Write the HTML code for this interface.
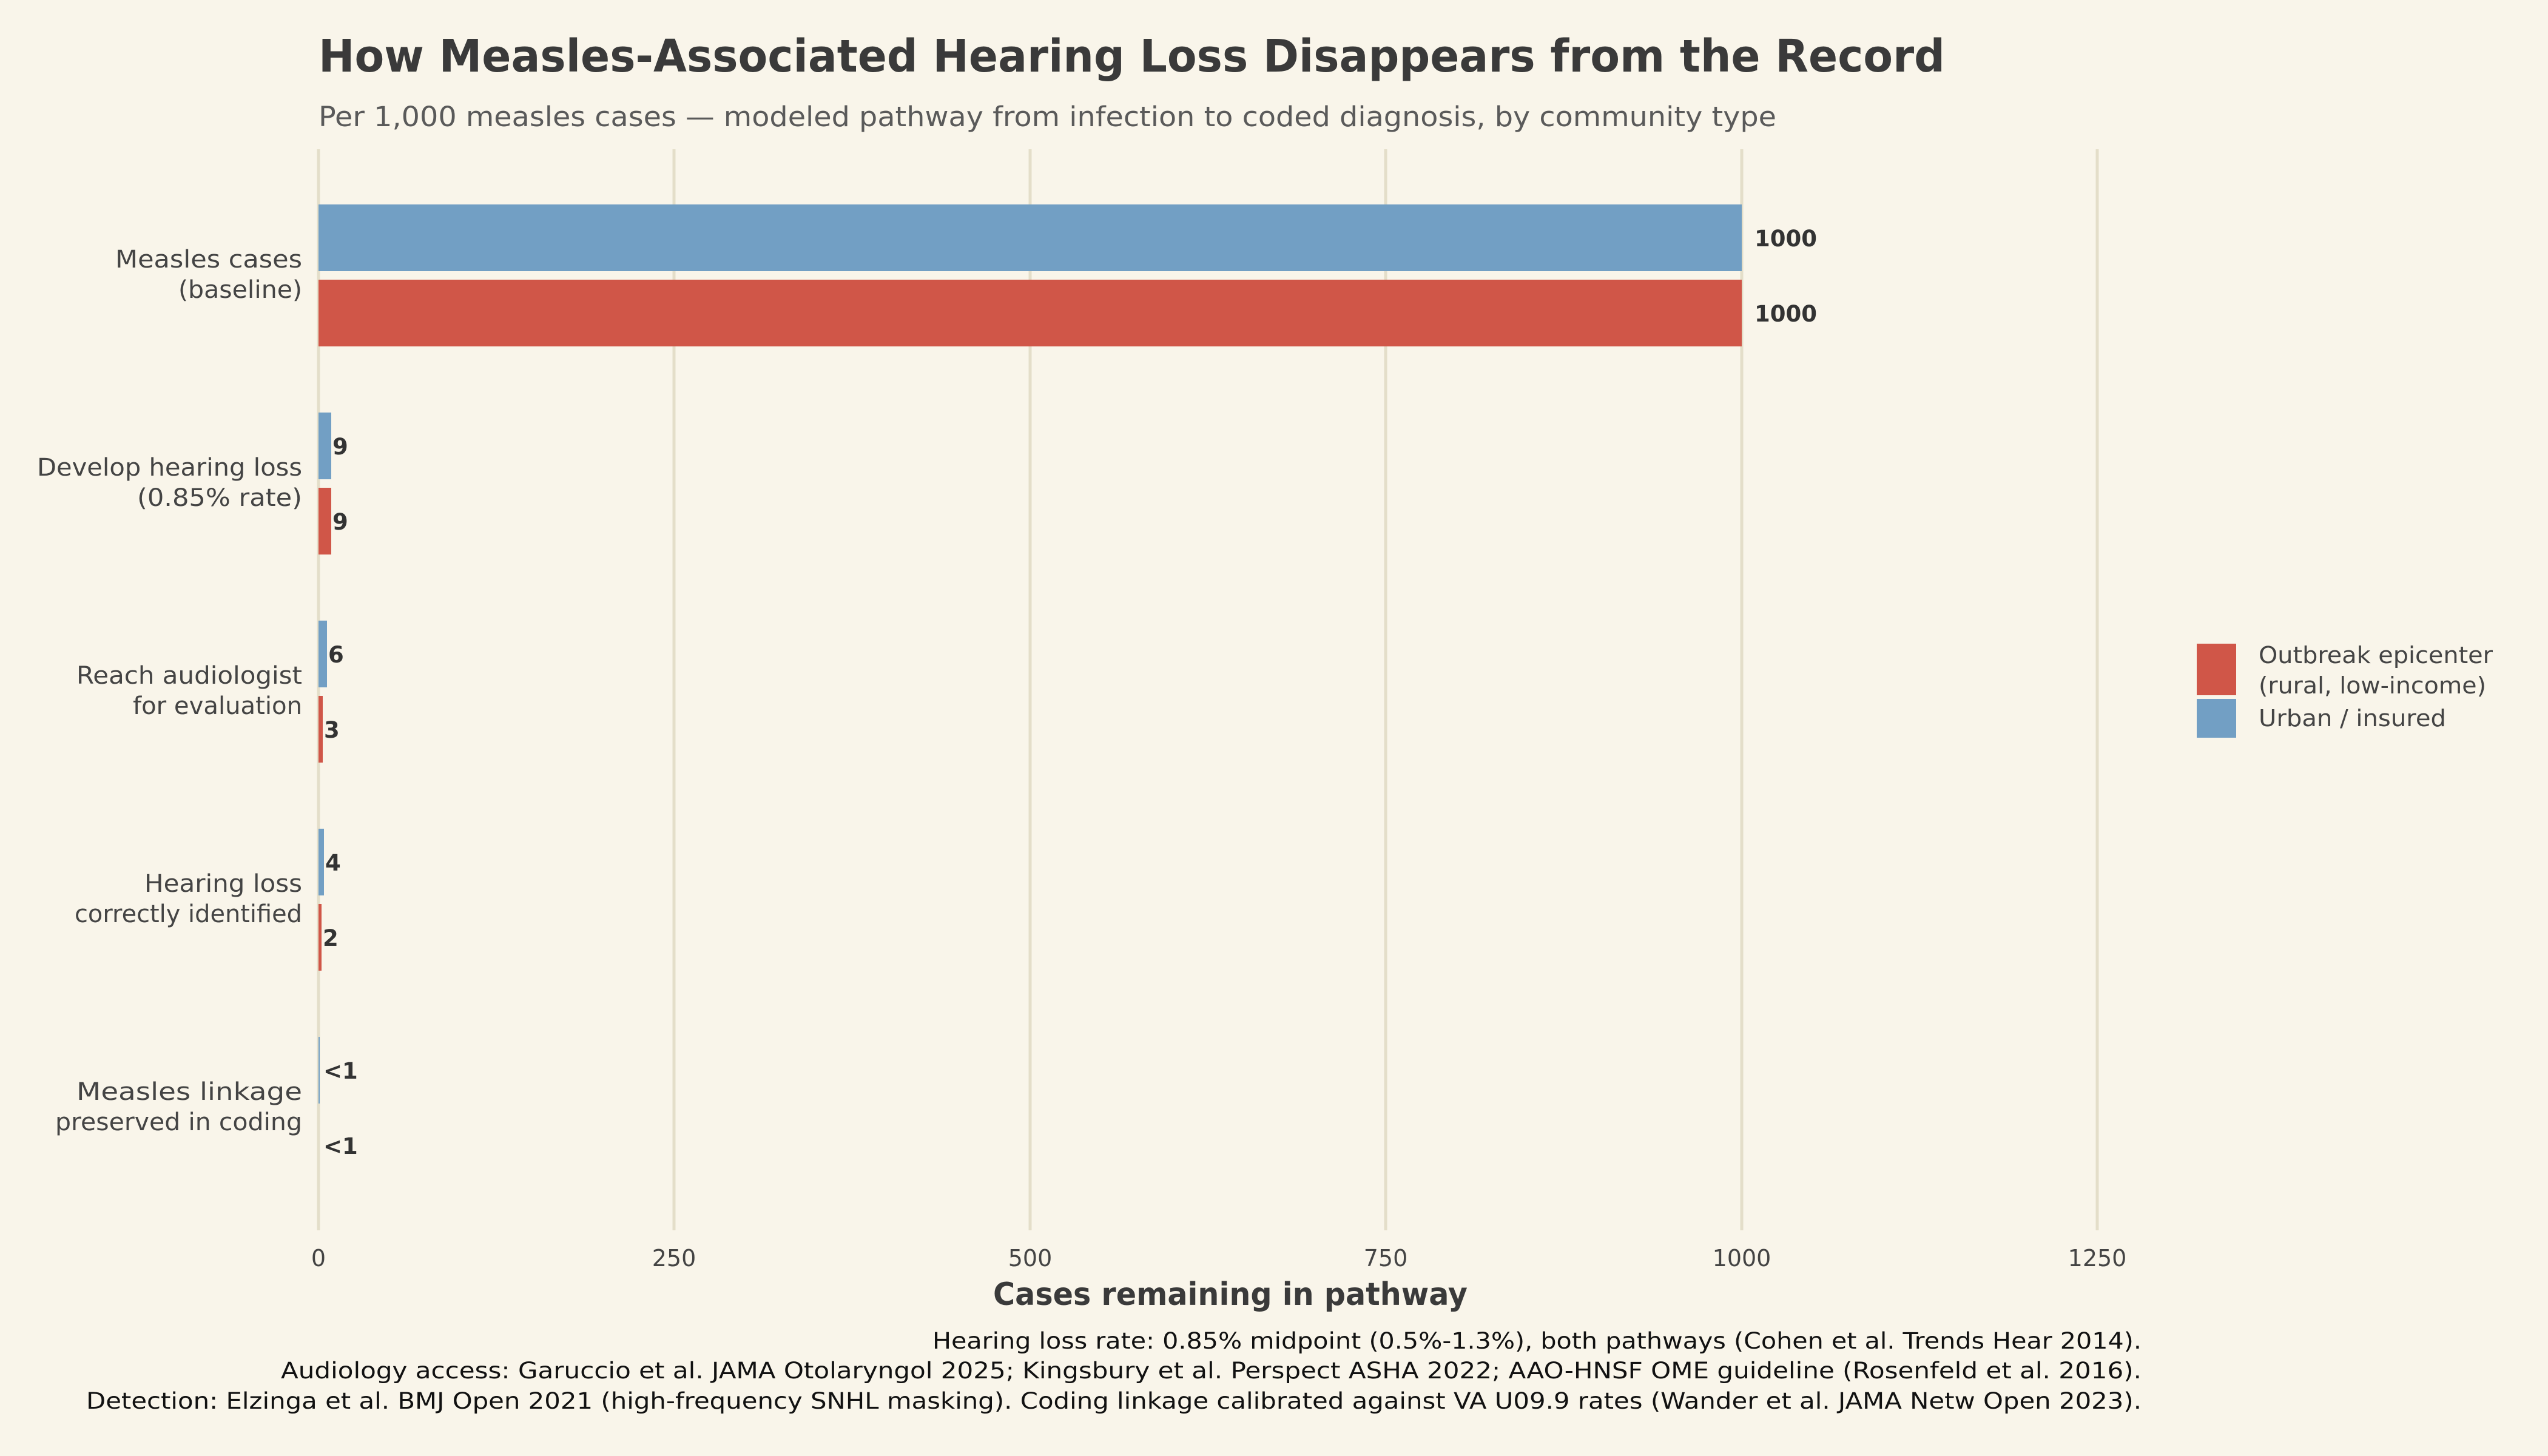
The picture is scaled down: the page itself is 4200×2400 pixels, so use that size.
<!DOCTYPE html>
<html><head><meta charset="utf-8"><style>
html,body{margin:0;padding:0;background:#f9f5ea;}
svg{display:block;font-family:"DejaVu Sans","Liberation Sans",sans-serif;}
</style></head><body>
<svg width="4200" height="2400" viewBox="0 0 4200 2400" xmlns="http://www.w3.org/2000/svg">
<rect width="4200" height="2400" fill="#f9f5ea"/>
<text x="525" y="118" font-size="74" font-weight="bold" fill="#3a3a3a" textLength="2681" lengthAdjust="spacingAndGlyphs">How Measles-Associated Hearing Loss Disappears from the Record</text>
<text x="525" y="208" font-size="45" fill="#5a5a5a" textLength="2403" lengthAdjust="spacingAndGlyphs">Per 1,000 measles cases — modeled pathway from infection to coded diagnosis, by community type</text>
<g stroke="#e4dec9" stroke-width="5">
<line x1="525" y1="246" x2="525" y2="2028"/>
<line x1="1111" y1="246" x2="1111" y2="2028"/>
<line x1="1698" y1="246" x2="1698" y2="2028"/>
<line x1="2284" y1="246" x2="2284" y2="2028"/>
<line x1="2871" y1="246" x2="2871" y2="2028"/>
<line x1="3457" y1="246" x2="3457" y2="2028"/>
</g>
<g fill="#729fc4">
<rect x="525" y="337" width="2346" height="110"/>
<rect x="525" y="680" width="21" height="110"/>
<rect x="525" y="1023" width="14" height="110"/>
<rect x="525" y="1366" width="9" height="110"/>
<rect x="525" y="1709" width="2" height="110"/>
</g>
<g fill="#d05648">
<rect x="525" y="461" width="2346" height="110"/>
<rect x="525" y="804" width="21" height="110"/>
<rect x="525" y="1147" width="7" height="110"/>
<rect x="525" y="1490" width="5" height="110"/>
</g>
<g font-size="37" font-weight="bold" fill="#333">
<text x="2892" y="406">1000</text>
<text x="2892" y="530">1000</text>
<text x="548" y="749">9</text>
<text x="548" y="873">9</text>
<text x="541" y="1092">6</text>
<text x="534" y="1216">3</text>
<text x="536" y="1435">4</text>
<text x="532" y="1559">2</text>
<text x="533" y="1778">&lt;1</text>
<text x="533" y="1902">&lt;1</text>
</g>
<g font-size="40" fill="#444" text-anchor="end" lengthAdjust="spacingAndGlyphs">
<text x="498" y="441" textLength="308" lengthAdjust="spacingAndGlyphs">Measles cases</text><text x="498" y="491" textLength="204" lengthAdjust="spacingAndGlyphs">(baseline)</text>
<text x="498" y="784" textLength="437" lengthAdjust="spacingAndGlyphs">Develop hearing loss</text><text x="498" y="834" textLength="272" lengthAdjust="spacingAndGlyphs">(0.85% rate)</text>
<text x="498" y="1127" textLength="372" lengthAdjust="spacingAndGlyphs">Reach audiologist</text><text x="498" y="1177" textLength="279" lengthAdjust="spacingAndGlyphs">for evaluation</text>
<text x="498" y="1470" textLength="260" lengthAdjust="spacingAndGlyphs">Hearing loss</text><text x="498" y="1520" textLength="375" lengthAdjust="spacingAndGlyphs">correctly identified</text>
<text x="498" y="1813" textLength="372" lengthAdjust="spacingAndGlyphs">Measles linkage</text><text x="498" y="1863" textLength="407" lengthAdjust="spacingAndGlyphs">preserved in coding</text>
</g>
<g font-size="38" fill="#444" text-anchor="middle">
<text x="525" y="2087">0</text>
<text x="1111" y="2087">250</text>
<text x="1698" y="2087">500</text>
<text x="2284" y="2087">750</text>
<text x="2871" y="2087">1000</text>
<text x="3457" y="2087">1250</text>
</g>
<text x="2028" y="2151" font-size="52" font-weight="bold" fill="#3a3a3a" text-anchor="middle" textLength="782" lengthAdjust="spacingAndGlyphs">Cases remaining in pathway</text>
<g font-size="37" fill="#111" text-anchor="end">
<text x="3530" y="2223" textLength="1993" lengthAdjust="spacingAndGlyphs">Hearing loss rate: 0.85% midpoint (0.5%-1.3%), both pathways (Cohen et al. Trends Hear 2014).</text>
<text x="3530" y="2272" textLength="3067" lengthAdjust="spacingAndGlyphs">Audiology access: Garuccio et al. JAMA Otolaryngol 2025; Kingsbury et al. Perspect ASHA 2022; AAO-HNSF OME guideline (Rosenfeld et al. 2016).</text>
<text x="3530" y="2322" textLength="3388" lengthAdjust="spacingAndGlyphs">Detection: Elzinga et al. BMJ Open 2021 (high-frequency SNHL masking). Coding linkage calibrated against VA U09.9 rates (Wander et al. JAMA Netw Open 2023).</text>
</g>
<rect x="3621" y="1061" width="65" height="85" fill="#d05648"/>
<rect x="3621" y="1152" width="65" height="64" fill="#729fc4"/>
<g font-size="38" fill="#444">
<text x="3723" y="1093" textLength="386" lengthAdjust="spacingAndGlyphs">Outbreak epicenter</text>
<text x="3723" y="1143" textLength="375" lengthAdjust="spacingAndGlyphs">(rural, low-income)</text>
<text x="3723" y="1197" textLength="309" lengthAdjust="spacingAndGlyphs">Urban / insured</text>
</g>
</svg>
</body></html>
